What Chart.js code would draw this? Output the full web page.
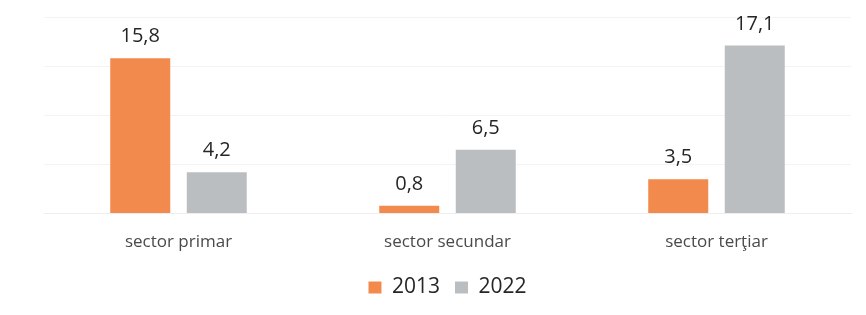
<!DOCTYPE html>
<html>
<head>
<meta charset="utf-8">
<script src="https://cdn.jsdelivr.net/npm/chart.js@4"></script>
<style>
html,body{margin:0;padding:0;background:#fff;}
#wrap{width:866px;height:315px;position:relative;}
</style>
</head>
<body>
<div id="wrap"><canvas id="c" width="866" height="315"></canvas></div>
<script>
const categories = ["sector primar", "sector secundar", "sector terţiar"];
const seriesNames = ["2013", "2022"];
const values2013 = [15.8, 0.8, 3.5];
const values2022 = [4.2, 6.5, 17.1];

const FONT = "'Open Sans', 'Noto Sans', sans-serif";

const valueLabels = {
  id: 'valueLabels',
  afterDatasetsDraw(chart) {
    const ctx = chart.ctx;
    ctx.save();
    ctx.font = "20px " + FONT;
    ctx.fillStyle = '#262626';
    ctx.textAlign = 'center';
    ctx.textBaseline = 'alphabetic';
    chart.data.datasets.forEach((ds, i) => {
      const meta = chart.getDatasetMeta(i);
      meta.data.forEach((bar, j) => {
        const txt = ds.data[j].toFixed(1).replace('.', ',');
        ctx.fillText(txt, bar.x, bar.y - 16);
      });
    });
    ctx.restore();
  }
};

new Chart(document.getElementById('c'), {
  type: 'bar',
  data: {
    labels: categories,
    datasets: [
      { label: seriesNames[0], data: values2013, backgroundColor: '#F38A4D' },
      { label: seriesNames[1], data: values2022, backgroundColor: '#BBBEC0' }
    ]
  },
  options: {
    responsive: false,
    animation: false,
    devicePixelRatio: 1,
    layout: { padding: { left: 44, right: 15, top: 17, bottom: 7 } },
    datasets: { bar: { categoryPercentage: 0.569, barPercentage: 0.784 } },
    scales: {
      x: {
        grid: { display: false },
        border: { display: true, color: '#eeeeee' },
        ticks: { color: '#4a4a4a', font: { family: FONT, size: 17 }, padding: 10 }
      },
      y: {
        display: true,
        min: 0, max: 20,
        ticks: { display: false, stepSize: 5 },
        border: { display: false },
        grid: { color: '#f3f3f3', drawTicks: false }
      }
    },
    plugins: {
      legend: {
        position: 'bottom',
        labels: {
          color: '#262626',
          font: { family: FONT, size: 21 },
          boxWidth: 13, boxHeight: 12, padding: 15
        }
      },
      tooltip: { enabled: false }
    }
  },
  plugins: [valueLabels]
});
</script>
</body>
</html>
